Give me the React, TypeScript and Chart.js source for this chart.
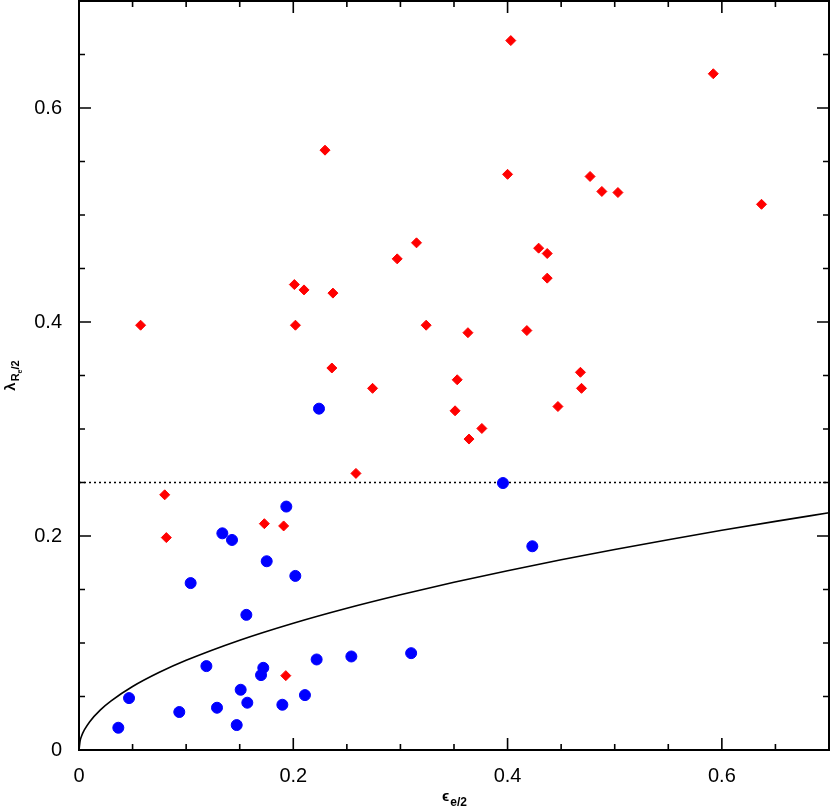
import React, { useEffect, useRef } from "react";
import { Chart, registerables } from "chart.js";

Chart.register(...registerables);

// Red diamonds (epsilon_e/2, lambda_Re/2)
const redEps = [
  0.0575, 0.080, 0.0815, 0.173, 0.191, 0.193, 0.201, 0.210, 0.237, 0.202,
  0.236, 0.274, 0.2296, 0.315, 0.297, 0.324, 0.363, 0.418, 0.429, 0.437,
  0.437, 0.353, 0.351, 0.376, 0.364, 0.2585, 0.447, 0.468, 0.469, 0.403,
  0.592, 0.400, 0.477, 0.488, 0.503, 0.637,
];
const redLambda = [
  0.397, 0.2385, 0.1985, 0.2115, 0.2094, 0.0695, 0.435, 0.430, 0.427, 0.397,
  0.357, 0.338, 0.5606, 0.474, 0.459, 0.397, 0.390, 0.392, 0.469, 0.464,
  0.441, 0.346, 0.317, 0.3005, 0.2906, 0.2585, 0.321, 0.353, 0.338, 0.663,
  0.632, 0.538, 0.536, 0.522, 0.521, 0.510,
];

// Blue circles
const blueEps = [
  0.224, 0.1935, 0.1338, 0.1428, 0.1752, 0.2019, 0.1042, 0.1562, 0.1189, 0.172,
  0.1699, 0.2218, 0.2542, 0.310, 0.0467, 0.1509, 0.1571, 0.2109, 0.0936, 0.1288,
  0.1898, 0.0367, 0.1472, 0.3957, 0.4231,
];
const blueLambda = [
  0.319, 0.2275, 0.2025, 0.1963, 0.1764, 0.1627, 0.156, 0.1263, 0.0784, 0.0768,
  0.070, 0.0846, 0.0874, 0.0905, 0.0485, 0.0563, 0.0442, 0.0513, 0.0355, 0.0395,
  0.0423, 0.0208, 0.0233, 0.2495, 0.1904,
];

// Solid dividing curve
const curveEps = [
  0, 0.001, 0.0025, 0.005, 0.01, 0.02, 0.03, 0.05, 0.075, 0.1, 0.15, 0.2, 0.25,
  0.3, 0.35, 0.4, 0.45, 0.5, 0.55, 0.6, 0.65, 0.7,
];
const curveLambda = [
  0, 0.0084, 0.0133, 0.0187, 0.0265, 0.0375, 0.0459, 0.0593, 0.0726, 0.0838,
  0.1026, 0.1185, 0.1325, 0.1451, 0.1568, 0.1676, 0.1778, 0.1874, 0.1965,
  0.2053, 0.2137, 0.2217,
];

// Dotted horizontal line
const thresholdEps = [0, 0.7];
const thresholdLambda = [0.25, 0.25];

const xTickLabels = ["0", "0.2", "0.4", "0.6"];
const yTickLabels = ["0", "0.2", "0.4", "0.6"];

const FONT = "'Liberation Sans', Arial, Helvetica, sans-serif";

const toPoints = (xs: number[], ys: number[]) => xs.map((x, i) => ({ x, y: ys[i] }));

const isMajor = (v: number) => Math.abs(v / 0.2 - Math.round(v / 0.2)) < 1e-6;
const fmt = (v: number, labels: string[]) => {
  if (!isMajor(v)) return "";
  const idx = Math.round(v / 0.2);
  return labels[idx] ?? "";
};

const framePlugin = {
  id: "frameTicks",
  afterDatasetsDraw(chart: any) {
    const { ctx, chartArea, scales } = chart;
    const { left, right, top, bottom } = chartArea;
    ctx.save();
    ctx.strokeStyle = "#000";
    ctx.lineWidth = 1.6;
    const xs = scales.x;
    const ys = scales.y;
    ctx.beginPath();
    xs.ticks.forEach((t: any) => {
      const p = xs.getPixelForValue(t.value);
      const len = isMajor(t.value) ? 12 : 6;
      ctx.moveTo(p, bottom);
      ctx.lineTo(p, bottom - len);
      ctx.moveTo(p, top);
      ctx.lineTo(p, top + len);
    });
    ys.ticks.forEach((t: any) => {
      const p = ys.getPixelForValue(t.value);
      const len = isMajor(t.value) ? 12 : 6;
      ctx.moveTo(left, p);
      ctx.lineTo(left + len, p);
      ctx.moveTo(right, p);
      ctx.lineTo(right - len, p);
    });
    ctx.stroke();
    ctx.lineWidth = 2;
    ctx.strokeRect(left, top, right - left, bottom - top);

    // Axis titles
    ctx.fillStyle = "#000";
    ctx.textBaseline = "alphabetic";
    // x title: ϵ_{e/2}
    const cx = (left + right) / 2;
    ctx.font = `bold 15px ${FONT}`;
    const mainW = ctx.measureText("ϵ").width;
    ctx.font = `bold 12px ${FONT}`;
    const subW = ctx.measureText("e/2").width;
    const startX = cx - (mainW + subW) / 2;
    ctx.font = `bold 15px ${FONT}`;
    ctx.fillText("ϵ", startX, 801);
    ctx.font = `bold 12px ${FONT}`;
    ctx.fillText("e/2", startX + mainW + 1, 806);

    // y title: λ_{R_e/2}, rotated
    const cy = (top + bottom) / 2;
    ctx.translate(14, cy);
    ctx.rotate(-Math.PI / 2);
    ctx.font = `bold 15px ${FONT}`;
    const lW = ctx.measureText("λ").width;
    ctx.font = `bold 11px ${FONT}`;
    const rW = ctx.measureText("R").width;
    ctx.font = `bold 7px ${FONT}`;
    const eW = ctx.measureText("e").width;
    ctx.font = `bold 11px ${FONT}`;
    const sW = ctx.measureText("/2").width;
    const total = lW + rW + eW + sW + 1;
    let px = -total / 2;
    ctx.font = `bold 15px ${FONT}`;
    ctx.fillText("λ", px, 1);
    px += lW + 1;
    ctx.font = `bold 11px ${FONT}`;
    ctx.fillText("R", px, 5);
    px += rW;
    ctx.font = `bold 7px ${FONT}`;
    ctx.fillText("e", px, 8);
    px += eW;
    ctx.font = `bold 11px ${FONT}`;
    ctx.fillText("/2", px, 5);
    ctx.restore();
  },
};

const zeroPad = (s: any) => {
  s.paddingLeft = 0;
  s.paddingRight = 0;
  s.paddingTop = 0;
  s.paddingBottom = 0;
};

export default function App() {
  const ref = useRef<HTMLCanvasElement | null>(null);

  useEffect(() => {
    if (!ref.current) return;
    const chart = new Chart(ref.current, {
      type: "scatter",
      data: {
        datasets: [
          {
            label: "red",
            data: toPoints(redEps, redLambda),
            pointStyle: "rectRot",
            pointRadius: 5,
            pointBorderWidth: 1,
            backgroundColor: "#ff0000",
            borderColor: "#ff0000",
            order: 0,
          },
          {
            label: "blue",
            data: toPoints(blueEps, blueLambda),
            pointStyle: "circle",
            pointRadius: 5.5,
            pointBorderWidth: 1,
            backgroundColor: "#0000ff",
            borderColor: "#0000ff",
            order: 0,
          },
          {
            label: "curve",
            data: toPoints(curveEps, curveLambda),
            showLine: true,
            pointRadius: 0,
            borderColor: "#000",
            borderWidth: 1.6,
            cubicInterpolationMode: "monotone",
            order: 1,
          } as any,
          {
            label: "threshold",
            data: toPoints(thresholdEps, thresholdLambda),
            showLine: true,
            pointRadius: 0,
            borderColor: "#000",
            borderWidth: 1.6,
            borderDash: [2, 3],
            order: 1,
          } as any,
        ],
      },
      options: {
        responsive: false,
        animation: false,
        devicePixelRatio: 1,
        layout: { autoPadding: false, padding: { top: 1, right: 1, left: 0, bottom: 0 } },
        plugins: {
          legend: { display: false },
          tooltip: { enabled: false },
        },
        scales: {
          x: {
            type: "linear",
            min: 0,
            max: 0.7,
            grid: { display: false, drawTicks: false },
            border: { display: false },
            ticks: {
              stepSize: 0.05,
              autoSkip: false,
              maxRotation: 0,
              padding: 14,
              color: "#000",
              font: { family: FONT, size: 20 },
              callback: (v: any) => fmt(Number(v), xTickLabels),
            },
            afterFit: (s: any) => {
              s.height = 60;
              zeroPad(s);
            },
          },
          y: {
            type: "linear",
            min: 0,
            max: 0.7,
            grid: { display: false, drawTicks: false },
            border: { display: false },
            ticks: {
              stepSize: 0.05,
              autoSkip: false,
              padding: 17,
              color: "#000",
              font: { family: FONT, size: 20 },
              callback: (v: any) => fmt(Number(v), yTickLabels),
            },
            afterFit: (s: any) => {
              s.width = 79;
              zeroPad(s);
            },
          },
        },
      },
      plugins: [framePlugin],
    });
    return () => chart.destroy();
  }, []);

  return (
    <div style={{ position: "absolute", left: 0, top: 0, width: 830, height: 810 }}>
      <canvas ref={ref} width={830} height={810} />
    </div>
  );
}
